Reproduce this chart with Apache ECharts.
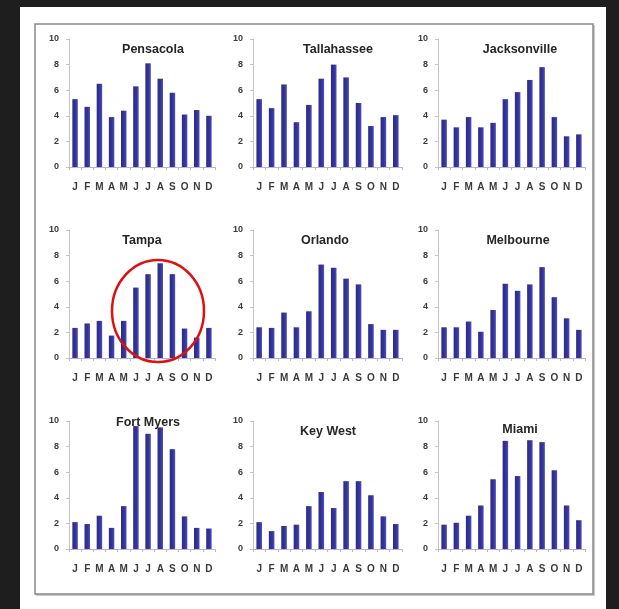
<!DOCTYPE html>
<html>
<head>
<meta charset="utf-8">
<script src="https://cdn.jsdelivr.net/npm/echarts@6/dist/echarts.min.js"></script>
<style>
html,body{margin:0;padding:0;background:#1e1e1e;}
#c{width:619px;height:609px;}
</style>
</head>
<body>
<div id="c"></div>
<script>
const months = ['J','F','M','A','M','J','J','A','S','O','N','D'];
const yTicks = [0, 2, 4, 6, 8, 10];
const cities = ['Pensacola','Tallahassee','Jacksonville','Tampa','Orlando','Melbourne','Fort Myers','Key West','Miami'];
const pensacola    = [5.3, 4.7, 6.5, 3.9, 4.4, 6.3, 8.1, 6.9, 5.8, 4.1, 4.45, 4.0];
const tallahassee  = [5.3, 4.6, 6.45, 3.5, 4.85, 6.9, 8.0, 7.0, 5.0, 3.2, 3.9, 4.05];
const jacksonville = [3.7, 3.1, 3.9, 3.1, 3.45, 5.3, 5.85, 6.8, 7.8, 3.9, 2.4, 2.55];
const tampa        = [2.35, 2.7, 2.9, 1.75, 2.9, 5.5, 6.55, 7.4, 6.55, 2.3, 1.6, 2.35];
const orlando      = [2.4, 2.35, 3.55, 2.4, 3.65, 7.3, 7.05, 6.2, 5.75, 2.65, 2.2, 2.2];
const melbourne    = [2.4, 2.4, 2.85, 2.05, 3.75, 5.8, 5.25, 5.75, 7.1, 4.75, 3.1, 2.2];
const fortMyers    = [2.1, 1.95, 2.6, 1.65, 3.35, 9.6, 9.0, 9.5, 7.8, 2.55, 1.65, 1.6];
const keyWest      = [2.1, 1.4, 1.8, 1.9, 3.35, 4.45, 3.2, 5.3, 5.3, 4.2, 2.55, 1.95];
const miami        = [1.9, 2.05, 2.6, 3.4, 5.45, 8.45, 5.7, 8.5, 8.35, 6.15, 3.4, 2.25];
const seriesData = [pensacola, tallahassee, jacksonville, tampa, orlando, melbourne, fortMyers, keyWest, miami];

const colLeft = [69, 253, 438];
const colWidth = [146, 149, 147];
const rowTop = [39, 230, 421];
const plotH = 128;
const titlePos = [
  [148, 38], [333, 38], [515, 38],
  [137, 229], [320, 229], [513, 229],
  [143, 411], [323, 420], [515, 418]
];
const font = 'Liberation Sans, Arial, sans-serif';

const grid = [], xAxis = [], yAxis = [], series = [], title = [];
for (let i = 0; i < 9; i++) {
  const r = Math.floor(i / 3), c = i % 3;
  grid.push({left: colLeft[c], top: rowTop[r], width: colWidth[c], height: plotH, containLabel: false});
  xAxis.push({
    type: 'category', gridIndex: i, data: months,
    axisLine: {lineStyle: {color: '#b4b4d8', width: 1}},
    axisTick: {show: true, alignWithLabel: false, length: 3, lineStyle: {color: '#b4b4d8'}},
    axisLabel: {interval: 0, margin: 15, fontSize: 10, fontWeight: 'bold', color: '#3a3a3a', fontFamily: font}
  });
  yAxis.push({
    type: 'value', gridIndex: i, min: 0, max: 10, interval: 2,
    splitLine: {show: false},
    axisLine: {show: true, lineStyle: {color: '#c4c4c4', width: 1}},
    axisTick: {show: true, length: 3, lineStyle: {color: '#c4c4c4'}},
    axisLabel: {margin: 10, fontSize: 9, fontWeight: 'bold', color: '#3a3a3a', fontFamily: font,
      formatter: v => yTicks.includes(v) ? String(v) : ''}
  });
  series.push({
    type: 'bar', xAxisIndex: i, yAxisIndex: i, data: seriesData[i], barWidth: '45%',
    itemStyle: {color: new echarts.graphic.LinearGradient(0, 0, 1, 0, [
      {offset: 0, color: '#2c2c86'}, {offset: 0.6, color: '#34349c'}, {offset: 1, color: '#5050c0'}
    ])},
    silent: true
  });
  title.push({
    text: cities[i], left: titlePos[i][0], top: titlePos[i][1], textAlign: 'center',
    textStyle: {fontSize: 12.5, fontWeight: 'bold', color: '#262626', fontFamily: font}
  });
}

const chart = echarts.init(document.getElementById('c'));
chart.setOption({
  backgroundColor: '#1e1e1e',
  animation: false,
  graphic: [
    {type: 'rect', z: -10, shape: {x: 20, y: 7, width: 586, height: 602}, style: {fill: '#ffffff'}},
    {type: 'rect', z: -9, shape: {x: 36, y: 25, width: 559, height: 571}, style: {fill: '#c8c8c8'}},
    {type: 'rect', z: -8, shape: {x: 35, y: 24, width: 558, height: 570}, style: {fill: '#ffffff', stroke: '#8a8a8a', lineWidth: 1.5}},
    {type: 'ellipse', z: 100, shape: {cx: 158, cy: 311, rx: 46, ry: 51}, style: {fill: 'none', stroke: '#e01010', lineWidth: 2.5}}
  ],
  title: title,
  grid: grid,
  xAxis: xAxis,
  yAxis: yAxis,
  series: series
});
</script>
</body>
</html>
